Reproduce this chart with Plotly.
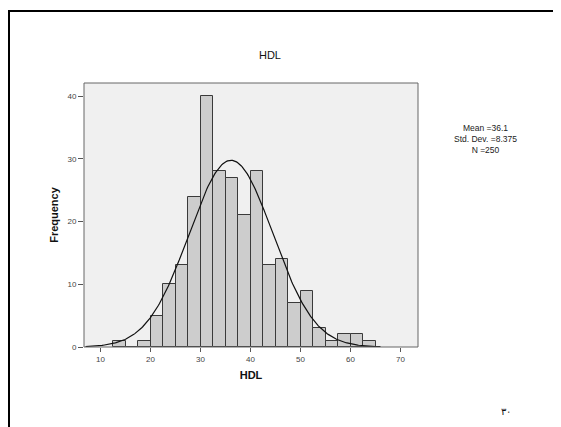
import numpy as np
import plotly.graph_objects as go

# Histogram bins (left edges) and frequencies
BIN_LEFT = [12.5, 15.0, 17.5, 20.0, 22.5, 25.0, 27.5, 30.0, 32.5, 35.0, 37.5,
            40.0, 42.5, 45.0, 47.5, 50.0, 52.5, 55.0, 57.5, 60.0, 62.5]
COUNTS = [1, 0, 1, 5, 10, 13, 24, 40, 28, 27, 21,
          28, 13, 14, 7, 9, 3, 1, 2, 2, 1]
BIN_WIDTH = 2.5
MEAN = 36.1
SD = 8.375
N = 250
X_TICKS = [10, 20, 30, 40, 50, 60, 70]
Y_TICKS = [0, 10, 20, 30, 40]
STATS_TEXT = ["Mean =36.1", "Std. Dev. =8.375", "N =250"]

FONT = "Liberation Sans, Arial, sans-serif"

# The page has an 8px body margin, so the figure is sized to fit the window.
OFF = 8
W, H = 561 - OFF, 427 - OFF
L, R, T, B = 84 - OFF, 418 - OFF, 83 - OFF, 347 - OFF
PW, PH = R - L, B - T


def px(x):
    return (x - OFF - L) / PW


def py(y):
    return 1 - (y - OFF - T) / PH


centers = [b + BIN_WIDTH / 2 for b in BIN_LEFT]

fig = go.Figure()
fig.add_trace(go.Bar(
    x=centers, y=COUNTS, width=[BIN_WIDTH] * len(COUNTS),
    marker=dict(color="#cdcdcd", line=dict(color="#3a3a3a", width=1)),
    hoverinfo="x+y", showlegend=False,
))

# Normal curve fitted with the stated mean / SD, scaled to N * bin width
xs = np.linspace(7.0, 66.0, 300)
ys = N * BIN_WIDTH / (SD * np.sqrt(2 * np.pi)) * np.exp(-0.5 * ((xs - MEAN) / SD) ** 2)
fig.add_trace(go.Scatter(x=xs, y=ys, mode="lines",
                         line=dict(color="#111111", width=1.2),
                         showlegend=False, hoverinfo="skip"))

fig.update_layout(
    width=W, height=H,
    margin=dict(l=L, r=W - R, t=T, b=H - B),
    paper_bgcolor="white", plot_bgcolor="#f0f0f0",
    font=dict(family=FONT, color="#222"),
    bargap=0,
    title=dict(text="HDL", x=(270 - OFF) / W, xanchor="center", y=1 - (55 - OFF) / H,
               yanchor="middle", font=dict(size=11, color="#111")),
    shapes=[
        dict(type="rect", xref="paper", yref="paper", x0=0, x1=1, y0=0, y1=1,
             line=dict(color="#666", width=1)),
        # outer page frame
        dict(type="line", xref="paper", yref="paper",
             x0=px(8), x1=px(570), y0=py(11), y1=py(11),
             line=dict(color="black", width=2)),
        dict(type="line", xref="paper", yref="paper",
             x0=px(9), x1=px(9), y0=py(11), y1=py(440),
             line=dict(color="black", width=2)),
    ],
    annotations=[
        dict(text="<br>".join(STATS_TEXT), xref="paper", yref="paper",
             x=px(485), y=py(121), xanchor="center", yanchor="top",
             showarrow=False, align="center", font=dict(size=8.5, color="#222")),
        dict(text="٣٠", xref="paper", yref="paper",
             x=px(506), y=py(411), xanchor="center", yanchor="middle",
             showarrow=False, font=dict(size=10, color="#111")),
    ],
)

fig.update_xaxes(range=[6.7, 73.5], tickvals=X_TICKS, ticktext=[str(t) for t in X_TICKS],
                 ticks="outside", ticklen=4, tickcolor="#555", showgrid=False, zeroline=False,
                 tickfont=dict(size=8, color="#444"),
                 title=dict(text="<b>HDL</b>", font=dict(size=11, color="#111"), standoff=8),
                 showline=False)
fig.update_yaxes(range=[0, 42.1], tickvals=Y_TICKS, ticks="outside", ticklen=5,
                 tickcolor="#555", showgrid=False, zeroline=False,
                 tickfont=dict(size=8, color="#444"),
                 title=dict(text="<b>Frequency</b>", font=dict(size=11, color="#111"), standoff=6),
                 showline=False)

fig.write_html("out.html")
